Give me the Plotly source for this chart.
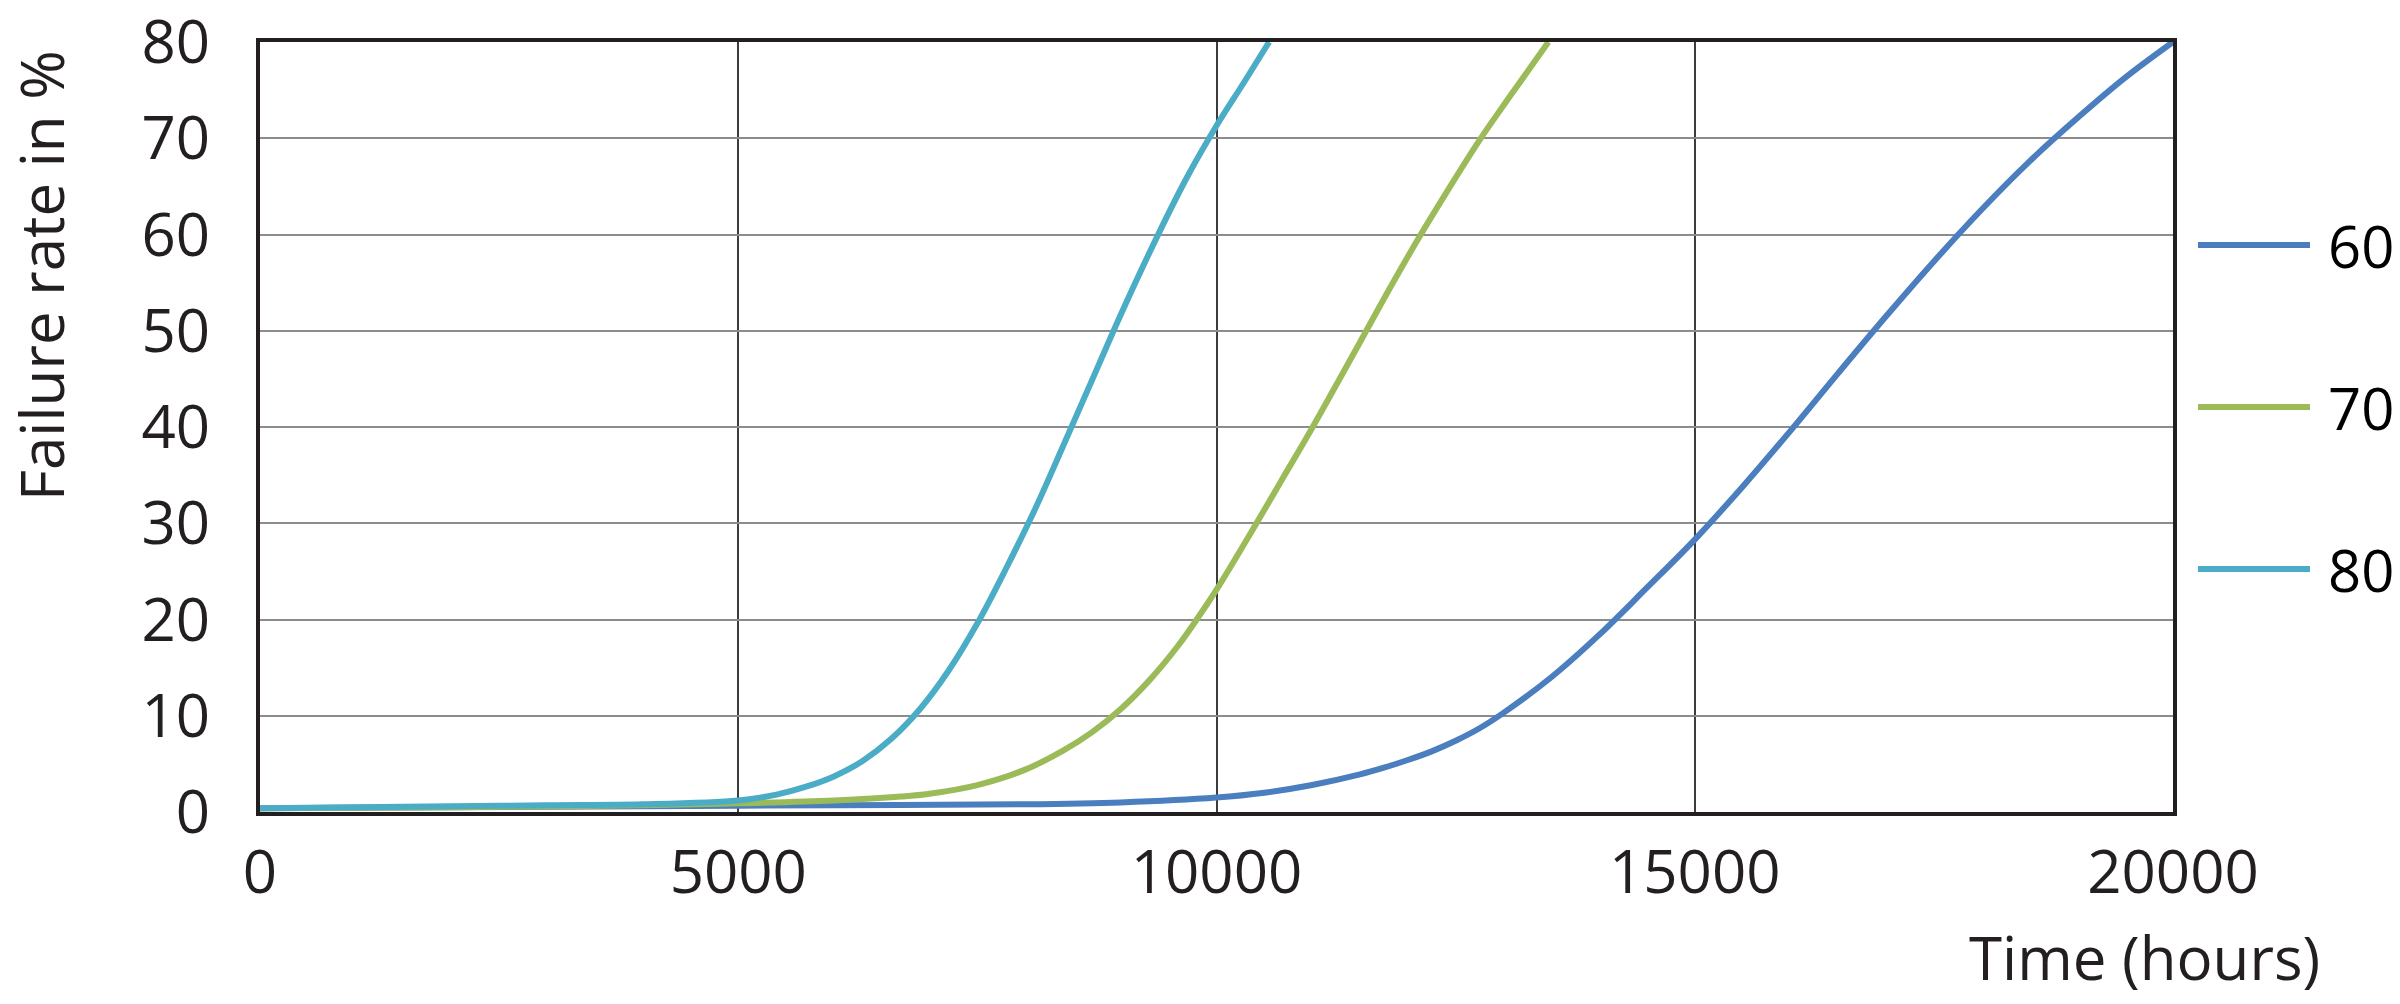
import plotly.graph_objects as go

# ---- data ----
series_names = ["60", "70", "80"]
series_colors = ["#4a7ebf", "#9bbb59", "#4bacc6"]

hours_60 = [0, 2000, 4000, 6000, 8000, 9000, 10000, 10500, 11000, 11500, 11750, 12000,
            12250, 12500, 12750, 13000, 13500, 14000, 14500, 15000, 15500, 16000, 16500,
            17000, 17500, 18000, 18500, 19000, 19500, 20000]
rate_60 = [0.4, 0.5, 0.6, 0.7, 0.8, 1.0, 1.5, 2.0, 2.8, 3.9, 4.6, 5.4,
           6.3, 7.4, 8.7, 10.3, 14.0, 18.4, 23.3, 28.3, 33.8, 39.6, 45.6,
           51.5, 57.2, 62.6, 67.6, 72.1, 76.3, 80.0]

hours_70 = [0, 2000, 4000, 5000, 6000, 6700, 7000, 7500, 8000, 8400, 8700, 9000, 9300,
            9600, 9800, 10000, 10400, 10700, 11000, 11500, 11800, 12100, 12400, 12750,
            13000, 13250, 13470]
rate_70 = [0.4, 0.5, 0.7, 0.9, 1.2, 1.6, 1.9, 2.8, 4.4, 6.4, 8.3, 10.7, 13.7,
           17.3, 20.1, 23.1, 29.7, 34.8, 39.9, 48.8, 54.2, 59.4, 64.3, 69.8,
           73.4, 76.9, 80.0]

hours_80 = [0, 1000, 2000, 3000, 4000, 5000, 5400, 5700, 6000, 6300, 6600, 6900,
            7200, 7500, 7800, 8100, 8400, 8700, 9000, 9400, 9700, 10000, 10300, 10550]
rate_80 = [0.4, 0.5, 0.6, 0.7, 0.8, 1.2, 1.8, 2.6, 3.7, 5.3, 7.6, 10.7,
           14.7, 19.6, 25.3, 31.4, 38.1, 44.9, 51.7, 60.2, 66.1, 71.3, 76.0, 80.0]

x_ticks = [0, 5000, 10000, 15000, 20000]
y_ticks = [0, 10, 20, 30, 40, 50, 60, 70, 80]

x_title = "Time (hours)"
y_title = "Failure rate in %"

# ---- figure ----
FONT = "Open Sans"
TXT = "#231f20"

fig = go.Figure()
for name, color, xs, ys in zip(series_names, series_colors,
                                [hours_60, hours_70, hours_80],
                                [rate_60, rate_70, rate_80]):
    fig.add_trace(go.Scatter(x=xs, y=ys, mode="lines", name=name,
                             line=dict(color=color, width=6, shape="spline", smoothing=1.0),
                             showlegend=False))

W, H = 2400, 1004
L, R, T, B = 260, 227, 42, 192
pw = W - L - R
ph = H - T - B

def px_x(px):
    return (px - L) / pw

def px_y(py):
    return (H - B - py) / ph

# custom legend (long line samples with labels to the right)
legend_y = [245, 407, 569]
shapes = []
annotations = []
for name, color, ly in zip(series_names, series_colors, legend_y):
    shapes.append(dict(type="line", xref="paper", yref="paper",
                       x0=px_x(2198), x1=px_x(2310), y0=px_y(ly), y1=px_y(ly),
                       line=dict(color=color, width=6)))
    annotations.append(dict(text=name, xref="paper", yref="paper",
                            x=px_x(2326), y=px_y(ly), xanchor="left", yanchor="middle",
                            showarrow=False, font=dict(family=FONT, size=58, color="#000000")))

annotations.append(dict(text=y_title, xref="paper", yref="paper",
                        x=px_x(41), y=px_y(276), xanchor="center", yanchor="middle",
                        textangle=-90, showarrow=False,
                        font=dict(family=FONT, size=60, color=TXT)))
annotations.append(dict(text=x_title, xref="paper", yref="paper",
                        x=px_x(2322), y=px_y(957), xanchor="right", yanchor="middle",
                        showarrow=False,
                        font=dict(family=FONT, size=60, color=TXT)))

fig.update_layout(
    width=W, height=H,
    margin=dict(l=L, r=R, t=T, b=B, pad=0, autoexpand=False),
    paper_bgcolor="white", plot_bgcolor="white",
    font=dict(family=FONT, size=60, color=TXT),
    shapes=shapes, annotations=annotations,
    showlegend=False,
)
fig.update_xaxes(range=[0, 20000], tickvals=x_ticks, ticktext=[str(v) for v in x_ticks],
                 showgrid=True, gridcolor="#3c3c3c", gridwidth=1.8,
                 showline=True, linecolor=TXT, linewidth=4, mirror=True,
                 ticks="outside", ticklen=5, tickcolor="rgba(0,0,0,0)",
                 ticklabeloverflow="allow", automargin=False,
                 zeroline=False, tickfont=dict(family=FONT, size=60, color=TXT))
fig.update_yaxes(range=[0, 80], tickvals=y_ticks, ticktext=[str(v) for v in y_ticks],
                 showgrid=True, gridcolor="#8c8c8c", gridwidth=2.2,
                 showline=True, linecolor=TXT, linewidth=4, mirror=True,
                 ticks="outside", ticklen=34, tickcolor="rgba(0,0,0,0)",
                 ticklabeloverflow="allow", automargin=False,
                 zeroline=False, tickfont=dict(family=FONT, size=60, color=TXT))

fig.write_html("out.html",
               config={"displayModeBar": False},
               post_script="document.body.style.margin='0';document.body.style.overflow='hidden';")
